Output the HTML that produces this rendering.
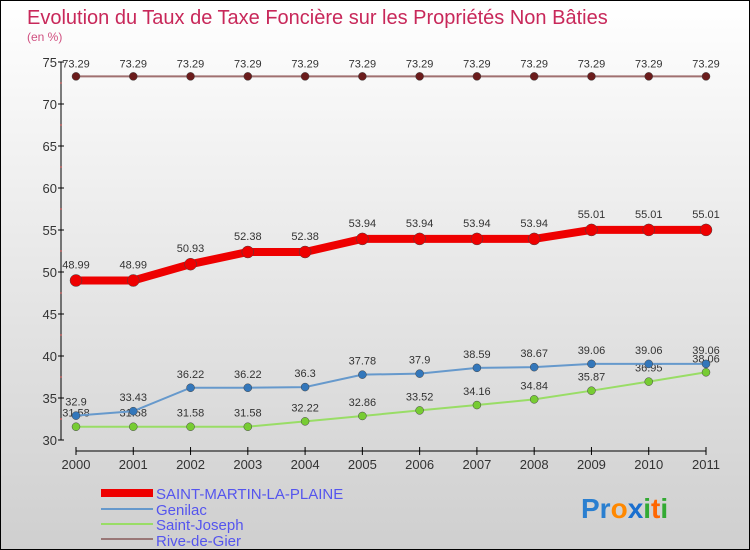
<!DOCTYPE html>
<html><head><meta charset="utf-8"><style>
body{margin:0}
#wrap{position:relative;width:748px;height:548px;border:1px solid #000;background:linear-gradient(#fff,#cfcfcf);font-family:"Liberation Sans",sans-serif;overflow:hidden}
</style></head><body>
<div id="wrap">
<svg id="chart" width="748" height="548" style="position:absolute;left:0;top:0">
<text x="26" y="23" font-size="20" fill="#c8285a">Evolution du Taux de Taxe Foncière sur les Propriétés Non Bâties</text>
<text x="26" y="40" font-size="12" fill="#d05080">(en %)</text>
<g id="axes"></g><g id="series"></g>
<g>
<rect x="100" y="488" width="52" height="8" fill="#e00"/>
<text x="155" y="498" font-size="15" fill="#5555ee">SAINT-MARTIN-LA-PLAINE</text>
<line x1="100" y1="508" x2="152" y2="508" stroke="#6699cc" stroke-width="2"/>
<text x="155" y="514" font-size="15" fill="#5555ee">Genilac</text>
<line x1="100" y1="523" x2="152" y2="523" stroke="#99dd66" stroke-width="2"/>
<text x="155" y="529" font-size="15" fill="#5555ee">Saint-Joseph</text>
<line x1="100" y1="538" x2="152" y2="538" stroke="#997777" stroke-width="2"/>
<text x="155" y="545" font-size="15" fill="#5555ee">Rive-de-Gier</text>
</g>
<text x="580" y="517" font-size="28" font-weight="bold"><tspan fill="#2a7fd0">Pr</tspan><tspan fill="#ff8800">o</tspan><tspan fill="#1a6fcf">x</tspan><tspan fill="#33aa33">i</tspan><tspan fill="#ff6600">t</tspan><tspan fill="#33aa33">i</tspan></text>
</svg>
</div>
<script>
const years=["2000","2001","2002","2003","2004","2005","2006","2007","2008","2009","2010","2011"];
const yTicks=[30,35,40,45,50,55,60,65,70,75];
const stMartin=[48.99,48.99,50.93,52.38,52.38,53.94,53.94,53.94,53.94,55.01,55.01,55.01];
const genilac=[32.9,33.43,36.22,36.22,36.3,37.78,37.9,38.59,38.67,39.06,39.06,39.06];
const stJoseph=[31.58,31.58,31.58,31.58,32.22,32.86,33.52,34.16,34.84,35.87,36.95,38.06];
const riveDeGier=[73.29,73.29,73.29,73.29,73.29,73.29,73.29,73.29,73.29,73.29,73.29,73.29];
const NS="http://www.w3.org/2000/svg";
const xS=i=>75+i*(630/11);
const yS=v=>439-(v-30)*8.4;
function mk(tag,attrs,parent){const e=document.createElementNS(NS,tag);for(const k in attrs)e.setAttribute(k,attrs[k]);parent.appendChild(e);return e;}
const axes=document.getElementById('axes');
const ya=mk('line',{x1:60,y1:yS(75),x2:60,y2:yS(30),stroke:'#000'},axes);


yTicks.forEach(t=>{
 mk('line',{x1:57,y1:yS(t),x2:63,y2:yS(t),stroke:'#000'},axes);
 if(t<75) mk('line',{x1:59,y1:yS(t+2.5),x2:61,y2:yS(t+2.5),stroke:'#e66'},axes);
 const tx=mk('text',{x:56,y:yS(t)+5,'font-size':13,'text-anchor':'end',fill:'#333'},axes);
 tx.textContent=t;
 
 
});
const xa=mk('line',{x1:xS(0),y1:450,x2:xS(11),y2:450,stroke:'#000'},axes);


years.forEach((y,i)=>{
 mk('line',{x1:xS(i),y1:446,x2:xS(i),y2:454,stroke:'#000'},axes);
 const tx=mk('text',{x:xS(i),y:468,'font-size':13,'text-anchor':'middle',fill:'#333'},axes);
 tx.textContent=y;
 
 
});
const sg=document.getElementById('series');
function series(vals,name,color,width,dot,r,labelDy){
 const g=mk('g',{},sg);
 
 
 const pl=mk('polyline',{points:vals.map((v,i)=>xS(i)+','+yS(v)).join(' '),fill:'none',stroke:color,'stroke-width':width},g);
 
 
 vals.forEach((v,i)=>{
  const c=mk('circle',{cx:xS(i),cy:yS(v),r:r,fill:dot,stroke:'#444','stroke-width':0.5},g);
  
  
  const t=mk('text',{x:xS(i),y:yS(v)+labelDy,'font-size':11,'text-anchor':'middle',fill:'#333'},g);
  t.textContent=v;
  
  
 });
}
series(riveDeGier,'rive-de-gier','#a07070',2,'#6b1c1c',4,-9);
series(stJoseph,'saint-joseph','#99dd66',2,'#77cc33',4,-10);
series(genilac,'genilac','#6699cc',2,'#3377bb',4,-10);
series(stMartin,'saint-martin-la-plaine','#ee0000',8,'#ee0000',6,-12);
</script>
</body></html>
